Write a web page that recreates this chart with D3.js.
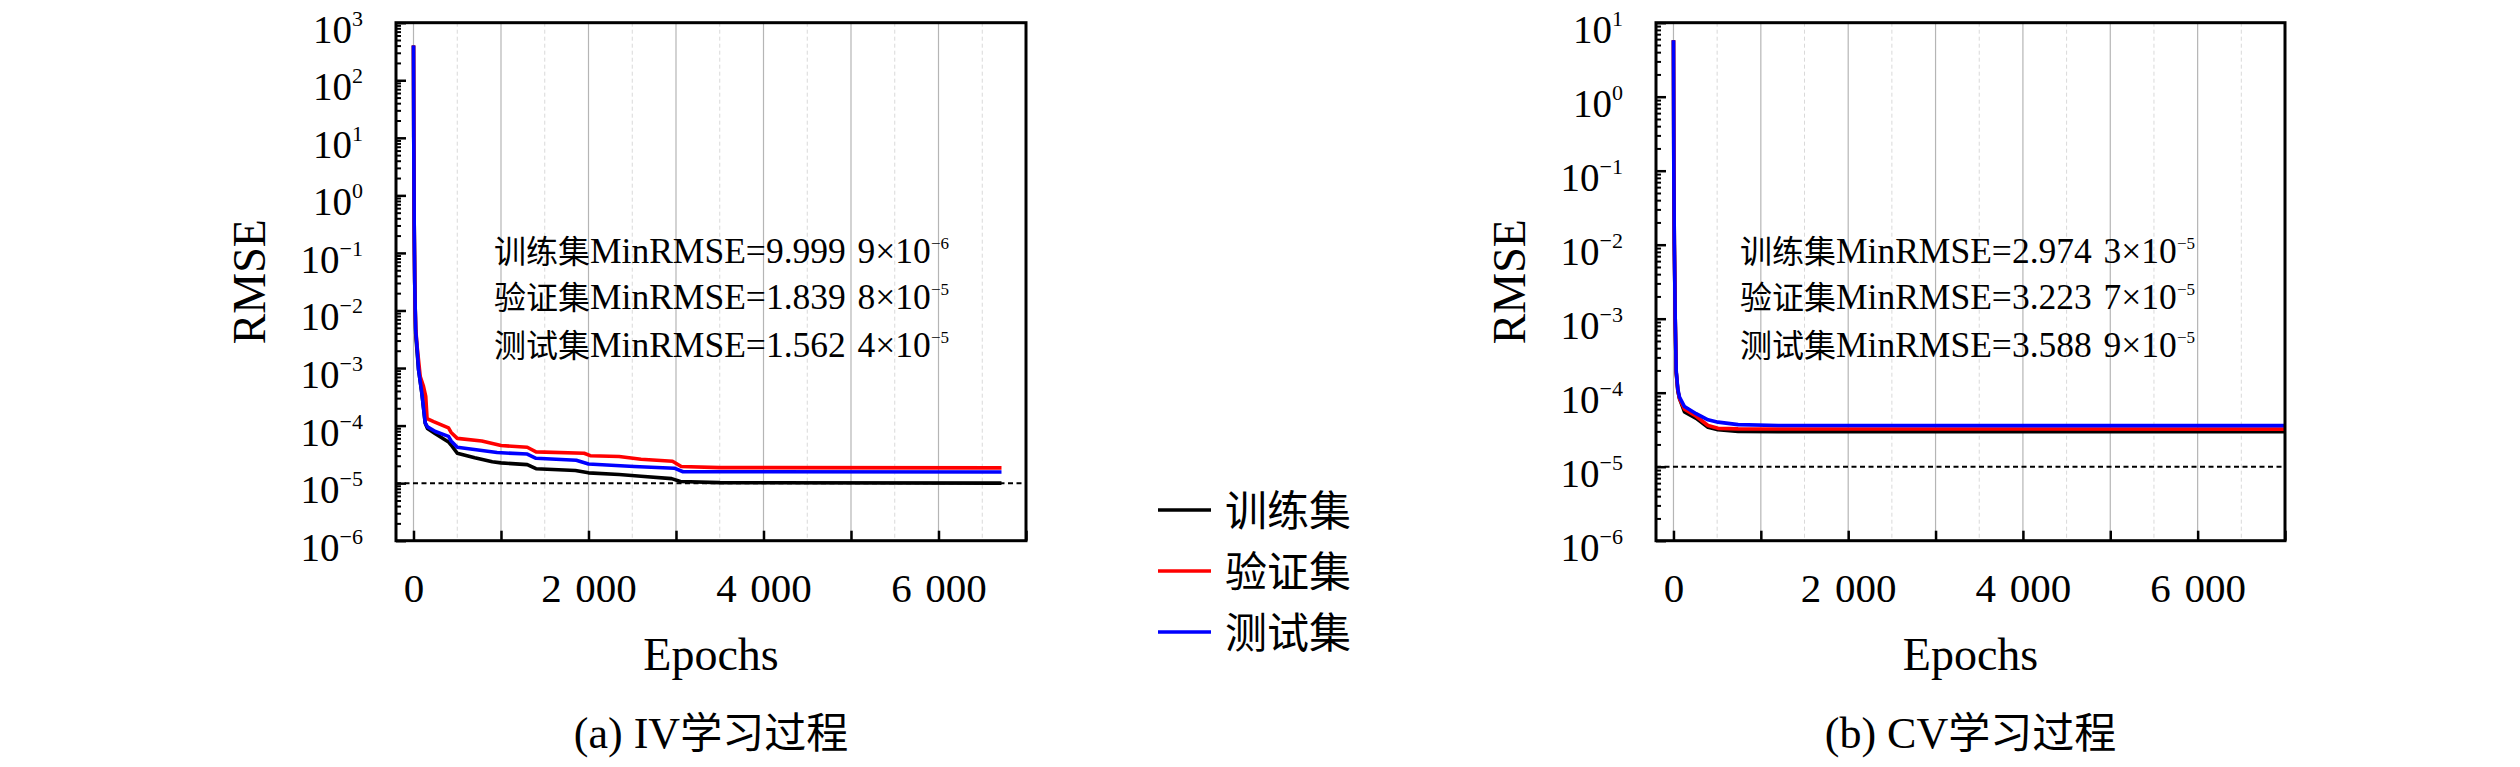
<!DOCTYPE html>
<html><head><meta charset="utf-8">
<script src="https://cdn.jsdelivr.net/npm/d3@7"></script>
<style>
html,body{margin:0;padding:0;background:#fff;}
svg{display:block;}
</style></head><body>
<svg id="chart" width="2520" height="767"></svg>
<script>
// ---------------- DATA ----------------
const seriesNames = ["训练集", "验证集", "测试集"];
const seriesColors = ["#000000", "#ff0000", "#0000ff"];

// (a) IV learning process
const ivTrainEpochs = [0,3,8,14,20,25,40,58,96,134,160,250,400,430,500,700,900,1000,1300,1400,1850,2000,2350,2600,2950,3050,3500,6720];
const ivTrainRmse   = [400,10,0.32,0.032,0.01,4.0e-3,2.0e-3,9.3e-4,3.6e-4,1.1e-4,8.9e-5,7.2e-5,5.2e-5,4.6e-5,3.3e-5,2.75e-5,2.35e-5,2.25e-5,2.1e-5,1.78e-5,1.66e-5,1.51e-5,1.41e-5,1.32e-5,1.2e-5,1.07e-5,1.02e-5,1.0e-5];
const ivValEpochs   = [0,3,8,14,20,25,40,77,114,140,155,230,400,430,500,780,1000,1300,1400,1950,2020,2350,2600,2960,3060,3500,6720];
const ivValRmse     = [400,10,0.32,0.032,0.01,5.0e-3,2.5e-3,7.1e-4,4.8e-4,3.2e-4,1.32e-4,1.17e-4,9.1e-5,7.6e-5,6.0e-5,5.4e-5,4.5e-5,4.2e-5,3.5e-5,3.3e-5,3.0e-5,2.9e-5,2.6e-5,2.4e-5,1.95e-5,1.86e-5,1.84e-5];
const ivTestEpochs  = [0,3,8,14,20,25,40,58,96,134,160,250,400,430,500,955,1300,1400,1860,2000,2520,2980,3080,6720];
const ivTestRmse    = [400,10,0.32,0.032,0.01,4.5e-3,2.4e-3,9.3e-4,3.6e-4,1.12e-4,9.5e-5,7.9e-5,6.5e-5,5.4e-5,4.2e-5,3.4e-5,3.2e-5,2.7e-5,2.5e-5,2.15e-5,1.95e-5,1.82e-5,1.58e-5,1.56e-5];
const ivMinMantissa = ["9.999 9", "1.839 8", "1.562 4"];
const ivMinExponent = ["−6", "−5", "−5"];

// (b) CV learning process
const cvEpochs    = [0,4,10,20,31,50,69,126,260,395,510,740,1200,7000];
const cvTrainRmse = [5.8,0.1,0.01,1.0e-3,1.9e-4,1.05e-4,8.3e-5,5.5e-5,4.5e-5,3.4e-5,3.15e-5,3.0e-5,2.98e-5,2.97e-5];
const cvValRmse   = [5.8,0.1,0.01,1.0e-3,1.9e-4,1.08e-4,8.3e-5,6.0e-5,4.8e-5,3.6e-5,3.3e-5,3.24e-5,3.23e-5,3.22e-5];
const cvTestRmse  = [5.8,0.1,0.01,1.0e-3,2.0e-4,1.12e-4,8.7e-5,6.5e-5,5.2e-5,4.3e-5,4.0e-5,3.7e-5,3.6e-5,3.59e-5];
const cvMinMantissa = ["2.974 3", "3.223 7", "3.588 9"];
const cvMinExponent = ["−5", "−5", "−5"];

const xDomain = [-200, 7000];
const xTickValues = [0,1000,2000,3000,4000,5000,6000,7000];
const xTickLabels = {0:"0", 2000:"2\u2004000", 4000:"4\u2004000", 6000:"6\u2004000"};
const xMajorGrid = [0,1000,2000,3000,4000,5000,6000,7000];
const xMinorGrid = [500,1500,2500,3500,4500,5500,6500];
const thresholdRmse = 1e-5;
const panelTitles = [["(a) IV", "学习过程"], ["(b) CV", "学习过程"]];
const xLabel = "Epochs";
const yLabel = "RMSE";
const minLabelPrefix = "MinRMSE=";

// ---------------- DRAW ----------------
const svg = d3.select("#chart");
svg.append("rect").attr("width", 2520).attr("height", 767).attr("fill", "#fff");
const LATIN = "'Liberation Serif','Times New Roman',serif";
const CJK = "'Noto Sans CJK SC','Noto Sans CJK TC',sans-serif";

function zip(es, vs) { return es.map((e, i) => [e, vs[i]]); }

const panels = [
  { left: 396, right: 1026, top: 22.7, bottom: 540.7, yDomain: [1e-6, 1e3],
    series: [zip(ivTrainEpochs, ivTrainRmse), zip(ivValEpochs, ivValRmse), zip(ivTestEpochs, ivTestRmse)],
    mant: ivMinMantissa, expo: ivMinExponent, annX: 494, title: panelTitles[0] },
  { left: 1656, right: 2285, top: 22.7, bottom: 540.7, yDomain: [1e-6, 1e1],
    series: [zip(cvEpochs, cvTrainRmse), zip(cvEpochs, cvValRmse), zip(cvEpochs, cvTestRmse)],
    mant: cvMinMantissa, expo: cvMinExponent, annX: 1740, title: panelTitles[1] }
];

panels.forEach(p => {
  const x = d3.scaleLinear().domain(xDomain).range([p.left, p.right]);
  const y = d3.scaleLog().domain(p.yDomain).range([p.bottom, p.top]);
  const g = svg.append("g");

  // grid
  g.selectAll("line.gmin").data(xMinorGrid).join("line").attr("class", "gmin")
    .attr("x1", d => x(d)).attr("x2", d => x(d)).attr("y1", p.top).attr("y2", p.bottom)
    .attr("stroke", "#d9d9d9").attr("stroke-width", 1).attr("stroke-dasharray", "4,3");
  g.selectAll("line.gmaj").data(xMajorGrid).join("line").attr("class", "gmaj")
    .attr("x1", d => x(d)).attr("x2", d => x(d)).attr("y1", p.top).attr("y2", p.bottom)
    .attr("stroke", "#b5b5b5").attr("stroke-width", 1.2);

  // threshold dashed line
  g.append("line").attr("x1", p.left).attr("x2", p.right)
    .attr("y1", y(thresholdRmse)).attr("y2", y(thresholdRmse))
    .attr("stroke", "#000").attr("stroke-width", 2).attr("stroke-dasharray", "5,3.5");

  // series
  const line = d3.line().x(d => x(d[0])).y(d => y(d[1]));
  p.series.forEach((s, i) => {
    g.append("path").datum(s).attr("d", line).attr("fill", "none")
      .attr("stroke", seriesColors[i]).attr("stroke-width", 3.6)
      .attr("stroke-linejoin", "round");
  });

  // x axis
  const xa = d3.axisBottom(x).tickValues(xTickValues).tickSizeInner(-10).tickSizeOuter(0)
    .tickPadding(32).tickFormat(v => xTickLabels[v] || "");
  g.append("g").attr("transform", `translate(0,${p.bottom})`).call(xa)
    .call(a => a.select(".domain").remove())
    .call(a => a.selectAll("line").attr("stroke", "#000").attr("stroke-width", 2.5))
    .call(a => a.selectAll("text").attr("font-family", LATIN).attr("font-size", 41).attr("fill", "#000"));

  // y axis: major + minor ticks
  const lo = Math.round(Math.log10(p.yDomain[0])), hi = Math.round(Math.log10(p.yDomain[1]));
  const majors = d3.range(lo, hi + 1).map(k => Math.pow(10, k));
  const minors = [];
  d3.range(lo, hi).forEach(k => { for (let m = 2; m <= 9; m++) minors.push(m * Math.pow(10, k)); });
  const ya = d3.axisLeft(y).tickValues(majors).tickSizeInner(-10).tickSizeOuter(0).tickFormat("");
  g.append("g").attr("transform", `translate(${p.left},0)`).call(ya)
    .call(a => a.select(".domain").remove())
    .call(a => a.selectAll("line").attr("stroke", "#000").attr("stroke-width", 2.5));
  const yam = d3.axisLeft(y).tickValues(minors).tickSizeInner(-5).tickSizeOuter(0).tickFormat("");
  g.append("g").attr("transform", `translate(${p.left},0)`).call(yam)
    .call(a => a.select(".domain").remove())
    .call(a => a.selectAll("line").attr("stroke", "#000").attr("stroke-width", 2));

  // y tick labels 10^k
  const yl = g.selectAll("text.ylab").data(majors).join("text").attr("class", "ylab")
    .attr("x", p.left - 33).attr("y", d => y(d) + 20).attr("text-anchor", "end")
    .attr("font-family", LATIN).attr("fill", "#000");
  yl.append("tspan").attr("font-size", 39).text("10");
  yl.append("tspan").attr("font-size", 22).attr("dy", -17)
    .text(d => { const k = Math.round(Math.log10(d)); return k < 0 ? "−" + (-k) : String(k); });

  // frame
  g.append("rect").attr("x", p.left).attr("y", p.top)
    .attr("width", p.right - p.left).attr("height", p.bottom - p.top)
    .attr("fill", "none").attr("stroke", "#000").attr("stroke-width", 3);

  // annotations
  const rows = [262.5, 309, 356.5];
  seriesNames.forEach((n, i) => {
    const t = g.append("text").attr("x", p.annX).attr("y", rows[i]).attr("fill", "#000");
    t.append("tspan").attr("font-family", CJK).attr("font-size", 32).text(n);
    t.append("tspan").attr("font-family", LATIN).attr("font-size", 35.5)
      .text(minLabelPrefix + p.mant[i].replace(" ", "\u2004") + "×10");
    t.append("tspan").attr("font-family", LATIN).attr("font-size", 17).attr("dy", -14).text(p.expo[i]);
  });

  // axis labels
  const cx = (p.left + p.right) / 2;
  g.append("text").attr("x", cx).attr("y", 670).attr("text-anchor", "middle")
    .attr("font-family", LATIN).attr("font-size", 46).attr("fill", "#000").text(xLabel);
  g.append("text").attr("transform", `translate(${p.left - 131},${(p.top + p.bottom) / 2}) rotate(-90)`)
    .attr("text-anchor", "middle").attr("font-family", LATIN).attr("font-size", 46)
    .attr("fill", "#000").text(yLabel);

  // panel title
  const tt = g.append("text").attr("x", cx).attr("y", 748).attr("text-anchor", "middle").attr("fill", "#000");
  tt.append("tspan").attr("font-family", LATIN).attr("font-size", 44).text(p.title[0]);
  tt.append("tspan").attr("font-family", CJK).attr("font-size", 42).text(p.title[1]);
});

// legend
const lg = svg.append("g");
seriesNames.forEach((n, i) => {
  const ly = 510 + 61 * i;
  lg.append("line").attr("x1", 1158).attr("x2", 1211).attr("y1", ly).attr("y2", ly)
    .attr("stroke", seriesColors[i]).attr("stroke-width", 3.6);
  lg.append("text").attr("x", 1225).attr("y", ly + 15.5).attr("font-family", CJK)
    .attr("font-size", 42).attr("fill", "#000").text(n);
});
</script>
</body></html>
